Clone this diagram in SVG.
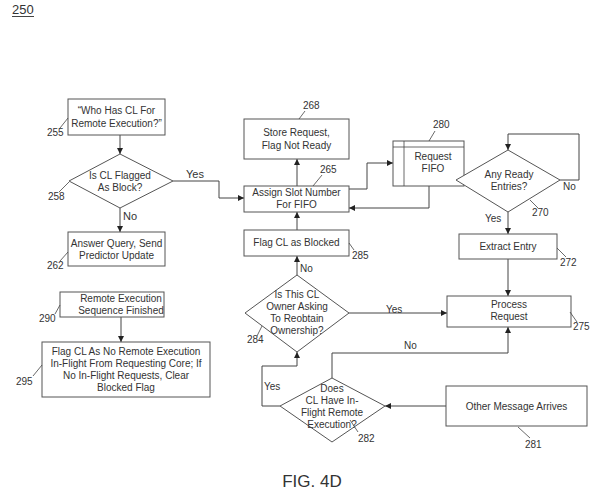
<svg xmlns="http://www.w3.org/2000/svg" width="595" height="495" viewBox="0 0 595 495">
<defs>
<style>
.b{fill:#fff;stroke:#555;stroke-width:1}
.t{font-family:"Liberation Sans",Arial,sans-serif;font-size:10px;fill:#333;text-anchor:middle}
.n{font-family:"Liberation Sans",Arial,sans-serif;font-size:10px;fill:#333}
.c{fill:none;stroke:#444;stroke-width:1}
.l{fill:none;stroke:#444;stroke-width:0.8}
</style>
<marker id="a" markerUnits="userSpaceOnUse" markerWidth="6" markerHeight="6" refX="6" refY="3" orient="auto">
<path d="M0,0 L6,3 L0,6 z" fill="#222"/>
</marker>
</defs>
<rect width="595" height="495" fill="#fff"/>
<g id="title">
<text x="12" y="14" class="n" style="font-size:13px">250</text>
<line x1="12" y1="16.5" x2="34" y2="16.5" stroke="#444" stroke-width="1"/>
</g>
<g id="connectors">
<path class="c" d="M120,135 V154" marker-end="url(#a)"/>
<path class="c" d="M173,181 H219 V198 H244" marker-end="url(#a)"/>
<path class="c" d="M120,208 V232" marker-end="url(#a)"/>
<path class="c" d="M297,186 V159" marker-end="url(#a)"/>
<path class="c" d="M349,189 H367 V163 H393" marker-end="url(#a)"/>
<path class="c" d="M429,186 V208 H349" marker-end="url(#a)"/>
<path class="c" d="M560,180 H579 V134 H508 V150" marker-end="url(#a)"/>
<path class="c" d="M508,212 V234" marker-end="url(#a)"/>
<path class="c" d="M508,259 V296" marker-end="url(#a)"/>
<path class="c" d="M297,230 V212" marker-end="url(#a)"/>
<path class="c" d="M297,275 V256" marker-end="url(#a)"/>
<path class="c" d="M349,313 H447" marker-end="url(#a)"/>
<path class="c" d="M332,378 V353 H508 V327" marker-end="url(#a)"/>
<path class="c" d="M280,406 H262 V366 H297 V352" marker-end="url(#a)"/>
<path class="c" d="M446,406 H385" marker-end="url(#a)"/>
<path class="c" d="M121,317 V342" marker-end="url(#a)"/>
<text x="186" y="178" class="n" style="font-size:11px">Yes</text>
<text x="123" y="220" class="n" style="font-size:11px">No</text>
<text x="485" y="222" class="n">Yes</text>
<text x="563" y="190" class="n">No</text>
<text x="300" y="272" class="n">No</text>
<text x="386" y="313" class="n">Yes</text>
<text x="404" y="349" class="n">No</text>
<text x="264" y="390" class="n">Yes</text>
</g>
<g id="n255">
<rect class="b" x="68" y="99" width="97" height="36"/>
<text class="t" x="116.5" y="114">“Who Has CL For</text>
<text class="t" x="116.5" y="127">Remote Execution?”</text>
<text class="n" x="47" y="136">255</text>
<line class="l" x1="60" y1="128" x2="68" y2="118"/>
</g>
<g id="n258">
<polygon class="b" points="120,154 173,181 120,208 69,181"/>
<text class="t" x="120" y="179">Is CL Flagged</text>
<text class="t" x="120" y="191">As Block?</text>
<text class="n" x="48" y="200">258</text>
<line class="l" x1="59" y1="192" x2="69" y2="182"/>
</g>
<g id="n262">
<rect class="b" x="68" y="232" width="97" height="34"/>
<text class="t" x="116.5" y="247">Answer Query, Send</text>
<text class="t" x="116.5" y="259">Predictor Update</text>
<text class="n" x="47" y="269">262</text>
<line class="l" x1="60" y1="261" x2="68" y2="252"/>
</g>
<g id="n268">
<rect class="b" x="244" y="119" width="105" height="40"/>
<text class="t" x="296.5" y="136">Store Request,</text>
<text class="t" x="296.5" y="149">Flag Not Ready</text>
<text class="n" x="303" y="109">268</text>
<line class="l" x1="305" y1="111" x2="299" y2="119"/>
</g>
<g id="n265">
<rect class="b" x="244" y="186" width="105" height="26"/>
<text class="t" x="296.5" y="196">Assign Slot Number</text>
<text class="t" x="296.5" y="208">For FIFO</text>
<text class="n" x="320" y="173">265</text>
<line class="l" x1="322" y1="175" x2="313" y2="186"/>
</g>
<g id="n280">
<rect class="b" x="393" y="141" width="71" height="45"/>
<line class="l" x1="404" y1="141" x2="404" y2="186"/>
<line class="l" x1="393" y1="147" x2="464" y2="147"/>
<text class="t" x="433" y="160">Request</text>
<text class="t" x="433" y="172">FIFO</text>
<text class="n" x="433" y="128">280</text>
<line class="l" x1="435" y1="131" x2="429" y2="141"/>
</g>
<g id="n270">
<polygon class="b" points="508,150 560,180 508,212 456,180"/>
<text class="t" x="509" y="178">Any Ready</text>
<text class="t" x="509" y="190">Entries?</text>
<text class="n" x="532" y="216">270</text>
<line class="l" x1="530" y1="200" x2="538" y2="208"/>
</g>
<g id="n272">
<rect class="b" x="459" y="234" width="98" height="25"/>
<text class="t" x="508" y="250">Extract Entry</text>
<text class="n" x="560" y="266">272</text>
<line class="l" x1="557" y1="248" x2="566" y2="257"/>
</g>
<g id="n285">
<rect class="b" x="244" y="230" width="105" height="26"/>
<text class="t" x="296.5" y="246">Flag CL as Blocked</text>
<text class="n" x="352" y="259">285</text>
<line class="l" x1="349" y1="243" x2="354" y2="250"/>
</g>
<g id="n275">
<rect class="b" x="447" y="296" width="124" height="31"/>
<text class="t" x="509" y="308">Process</text>
<text class="t" x="509" y="320">Request</text>
<text class="n" x="573" y="330">275</text>
<line class="l" x1="570" y1="312" x2="577" y2="322"/>
</g>
<g id="n284">
<polygon class="b" points="297,275 349,313 297,352 245,313"/>
<text class="t" x="297" y="298">Is This CL</text>
<text class="t" x="297" y="310">Owner Asking</text>
<text class="t" x="297" y="322">To Reobtain</text>
<text class="t" x="297" y="334">Ownership?</text>
<text class="n" x="247" y="343">284</text>
<line class="l" x1="262" y1="326" x2="257" y2="336"/>
</g>
<g id="n282">
<polygon class="b" points="332,378 385,406 332,442 280,406"/>
<text class="t" x="332" y="392">Does</text>
<text class="t" x="332" y="404">CL Have In-</text>
<text class="t" x="332" y="416">Flight Remote</text>
<text class="t" x="332" y="428">Execution?</text>
<text class="n" x="358" y="442">282</text>
<line class="l" x1="350" y1="420" x2="358" y2="432"/>
</g>
<g id="n281">
<rect class="b" x="446" y="386" width="141" height="40"/>
<text class="t" x="516.5" y="410">Other Message Arrives</text>
<text class="n" x="525" y="448">281</text>
<line class="l" x1="518" y1="427" x2="530" y2="438"/>
</g>
<g id="n290">
<rect class="b" x="60" y="292" width="104" height="25"/>
<text class="t" x="121" y="302">Remote Execution</text>
<text class="t" x="121" y="314">Sequence Finished</text>
<text class="n" x="39" y="322">290</text>
<line class="l" x1="55" y1="314" x2="60" y2="305"/>
</g>
<g id="n295">
<rect class="b" x="42" y="342" width="168" height="55"/>
<text class="t" x="126" y="355">Flag CL As No Remote Execution</text>
<text class="t" x="126" y="367">In-Flight From Requesting Core; If</text>
<text class="t" x="126" y="379">No In-Flight Requests, Clear</text>
<text class="t" x="126" y="391">Blocked Flag</text>
<text class="n" x="16" y="385">295</text>
<line class="l" x1="33" y1="376" x2="42" y2="365"/>
</g>
<g id="caption">
<text x="312" y="487" style="font-family:'Liberation Sans',Arial,sans-serif;font-size:17px;fill:#333;text-anchor:middle">FIG. 4D</text>
</g>
</svg>
